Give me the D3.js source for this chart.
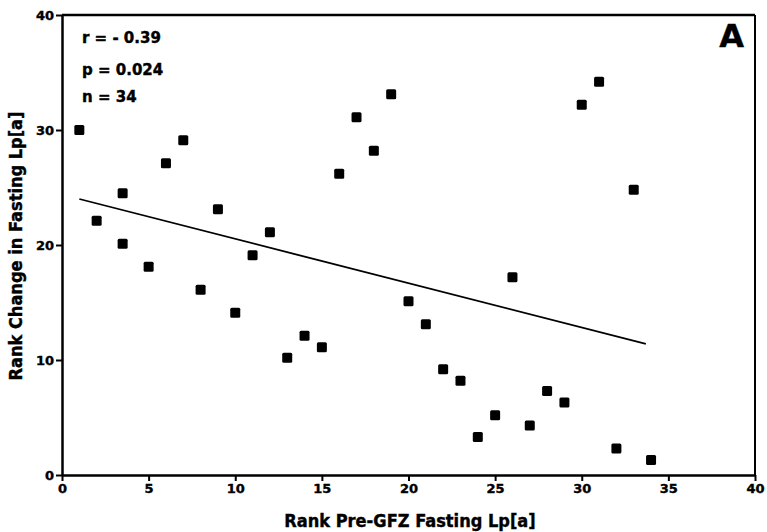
<!DOCTYPE html>
<html><head><meta charset="utf-8">
<script src="https://cdn.jsdelivr.net/npm/d3@7"></script>
<style>
html,body{margin:0;padding:0;background:#fff;}
svg text{font-family:"DejaVu Sans",sans-serif;font-weight:bold;fill:#000;stroke:#000;stroke-width:0.4px;}
</style></head>
<body>
<svg id="c" width="767" height="532"></svg>
<script>
const rankPre = [1,2,3.5,3.5,5,6,7,8,9,10,11,12,13,14,15,16,17,18,19,20,21,22,23,24,25,26,27,28,29,30,31,32,33,34];
const rankChange = [30,22.1,24.5,20.1,18.1,27.1,29.1,16.1,23.1,14.1,19.1,21.1,10.2,12.1,11.1,26.2,31.1,28.2,33.1,15.1,13.1,9.2,8.2,3.3,5.2,17.2,4.3,7.3,6.3,32.2,34.2,2.3,24.8,1.3];
const fitX = [1, 33.7];
const fitY = [24.0, 11.4];
const xTicks = [0,5,10,15,20,25,30,35,40];
const yTicks = [0,10,20,30,40];
const stats = ["r = - 0.39","p = 0.024","n = 34"];

const svg = d3.select("#c");
const x = d3.scaleLinear().domain([0,40]).range([62,755]);
const y = d3.scaleLinear().domain([0,40]).range([475,15]);

// frame top/right
svg.append("line").attr("x1",x(0)).attr("x2",x(40)).attr("y1",y(40)).attr("y2",y(40)).attr("stroke","#000").attr("stroke-width",2.5);
svg.append("line").attr("x1",x(40)).attr("x2",x(40)).attr("y1",y(40)).attr("y2",y(0)).attr("stroke","#000").attr("stroke-width",2);

const xa = svg.append("g").attr("transform",`translate(0,${y(0)})`)
  .call(d3.axisBottom(x).tickValues(xTicks).tickSize(6).tickPadding(3).tickSizeOuter(0));
const ya = svg.append("g").attr("transform",`translate(${x(0)},0)`)
  .call(d3.axisLeft(y).tickValues(yTicks).tickSize(6).tickPadding(2).tickSizeOuter(0));
[xa,ya].forEach(a=>{
  a.select(".domain").attr("stroke","#000").attr("stroke-width",2.5);
  a.selectAll(".tick line").attr("stroke","#000").attr("stroke-width",2);
  a.selectAll("text").attr("font-size",13).attr("font-family","DejaVu Sans, sans-serif").attr("font-weight","bold");
});

// regression line
svg.append("path")
  .attr("d", d3.line().x(d=>x(d[0])).y(d=>y(d[1]))(d3.zip(fitX,fitY)))
  .attr("stroke","#000").attr("stroke-width",1.8).attr("fill","none");

// points
svg.append("g").selectAll("rect").data(d3.zip(rankPre,rankChange)).join("rect")
  .attr("x",d=>x(d[0])-5).attr("y",d=>y(d[1])-5)
  .attr("width",10).attr("height",10).attr("rx",1.5).attr("fill","#000");

// stats
svg.append("g").selectAll("text").data(stats).join("text")
  .attr("x",82).attr("y",(d,i)=>[43,75,102][i]).attr("font-size",15).text(d=>d);

svg.append("text").attr("x",744).attr("y",47).attr("text-anchor","end").attr("font-size",32)
  .attr("font-family","Liberation Sans, Arial, sans-serif").text("A");

svg.append("text").attr("x",410).attr("y",527).attr("text-anchor","middle").attr("font-size",17)
  .attr("transform","translate(410,0) scale(0.955,1) translate(-410,0)").text("Rank Pre-GFZ Fasting Lp[a]");
svg.append("text").attr("transform","translate(22,246) rotate(-90) scale(0.955,1)").attr("text-anchor","middle").attr("font-size",17)
  .text("Rank Change in Fasting Lp[a]");
</script>
</body></html>
